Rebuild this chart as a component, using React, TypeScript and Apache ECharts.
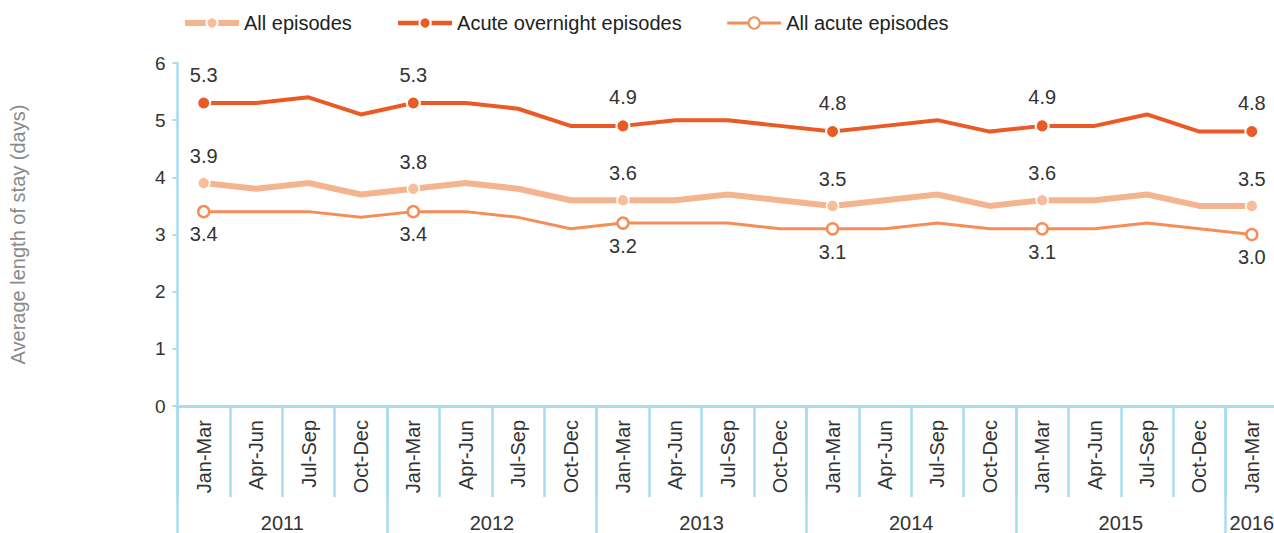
import React, { useEffect, useRef } from "react";
import * as echarts from "echarts";

const quarterNames = ["Jan-Mar", "Apr-Jun", "Jul-Sep", "Oct-Dec"];
const yearNames = ["2011", "2012", "2013", "2014", "2015", "2016"];
const quarterCount = 21;

const allEpisodes = [3.9, 3.8, 3.9, 3.7, 3.8, 3.9, 3.8, 3.6, 3.6, 3.6, 3.7, 3.6, 3.5, 3.6, 3.7, 3.5, 3.6, 3.6, 3.7, 3.5, 3.5];
const acuteOvernight = [5.3, 5.3, 5.4, 5.1, 5.3, 5.3, 5.2, 4.9, 4.9, 5.0, 5.0, 4.9, 4.8, 4.9, 5.0, 4.8, 4.9, 4.9, 5.1, 4.8, 4.8];
const allAcute = [3.4, 3.4, 3.4, 3.3, 3.4, 3.4, 3.3, 3.1, 3.2, 3.2, 3.2, 3.1, 3.1, 3.1, 3.2, 3.1, 3.1, 3.1, 3.2, 3.1, 3.0];

const yTicks = { min: 0, max: 6, interval: 1 };

const FONT = "'Liberation Sans', Arial, Helvetica, sans-serif";
const AXIS_BLUE = "#A8DCEF";
const C_DARK = "#EA5A24";
const C_LIGHT = "#F5B490";
const C_LIGHT_MARK = "#F7BE9E";
const C_MED = "#F78D56";

const categories: string[] = [];
for (let i = 0; i < quarterCount; i++) {
  categories.push(quarterNames[i % 4]);
}

// Half-step category axis for year group labels and boundaries
const yearSlots: string[] = new Array(quarterCount * 2 + 1).fill("");
yearNames.forEach((y, yi) => {
  const start = yi * 4;
  const count = Math.min(4, quarterCount - start);
  if (count > 0) yearSlots[2 * start + count] = y;
});

function buildData(values: number[]) {
  return values.map((v, i) =>
    i % 4 === 0
      ? { value: v, label: { show: true } }
      : { value: v, symbol: "none", label: { show: false } }
  );
}

export default function App() {
  const ref = useRef<HTMLDivElement>(null);
  useEffect(() => {
    document.body.style.margin = "0";
    const chart = echarts.init(ref.current!, null, { renderer: "svg" });
    const labelStyle = { fontSize: 20, color: "#333", fontFamily: FONT };
    chart.setOption({
      animation: false,
      textStyle: { fontFamily: FONT },
      legend: {
        left: 182,
        top: 13,
        padding: 0,
        itemWidth: 54,
        itemHeight: 14,
        itemGap: 44,
        textStyle: { fontSize: 20, color: "#222", fontFamily: FONT },
        data: [
          { name: "All episodes", lineStyle: { width: 6 } },
          { name: "Acute overnight episodes", lineStyle: { width: 4.5 } },
          { name: "All acute episodes", lineStyle: { width: 3 } },
        ],
      },
      grid: {
        left: 177.5,
        right: -4,
        top: 63,
        bottom: 127,
        containLabel: false,
        outerBoundsMode: "none",
      },
      yAxis: {
        type: "value",
        min: yTicks.min,
        max: yTicks.max,
        interval: yTicks.interval,
        name: "Average length of stay (days)",
        nameLocation: "middle",
        nameGap: 150,
        nameRotate: 90,
        nameTextStyle: { fontSize: 20, color: "#8a8a8a", fontFamily: FONT },
        axisLine: { show: true, lineStyle: { color: AXIS_BLUE, width: 2.5 } },
        axisTick: { show: true, length: 5, lineStyle: { color: AXIS_BLUE, width: 2 } },
        splitLine: { show: false },
        axisLabel: { fontSize: 19, color: "#333", margin: 12, fontFamily: FONT },
      },
      xAxis: [
        {
          type: "category",
          data: categories,
          boundaryGap: true,
          position: "bottom",
          axisLine: { show: true, lineStyle: { color: AXIS_BLUE, width: 3 } },
          axisTick: { show: true, interval: 0, length: 91, lineStyle: { color: AXIS_BLUE, width: 2.5 } },
          axisLabel: { interval: 0, rotate: 90, fontSize: 20, color: "#333", margin: 14, fontFamily: FONT },
          splitLine: { show: false },
        },
        {
          type: "category",
          data: yearSlots,
          boundaryGap: false,
          position: "bottom",
          axisLine: { show: false },
          axisTick: {
            show: true,
            interval: (i: number) => i % 8 === 0,
            length: 135,
            lineStyle: { color: AXIS_BLUE, width: 2.5 },
          },
          axisLabel: { interval: 0, fontSize: 20, color: "#333", margin: 107, fontFamily: FONT },
          splitLine: { show: false },
        },
      ],
      series: [
        {
          name: "All episodes",
          type: "line",
          xAxisIndex: 0,
          data: buildData(allEpisodes),
          symbol: "circle",
          symbolSize: 12,
          lineStyle: { color: C_LIGHT, width: 6 },
          itemStyle: { color: C_LIGHT_MARK, borderColor: "#fff", borderWidth: 1.5 },
          label: { position: "top", distance: 10, ...labelStyle, formatter: (p: any) => p.value.toFixed(1) },
          z: 2,
        },
        {
          name: "Acute overnight episodes",
          type: "line",
          xAxisIndex: 0,
          data: buildData(acuteOvernight),
          symbol: "circle",
          symbolSize: 13,
          lineStyle: { color: C_DARK, width: 4 },
          itemStyle: { color: C_DARK, borderColor: "#fff", borderWidth: 2 },
          label: { position: "top", distance: 11, ...labelStyle, formatter: (p: any) => p.value.toFixed(1) },
          z: 3,
        },
        {
          name: "All acute episodes",
          type: "line",
          xAxisIndex: 0,
          data: buildData(allAcute),
          symbol: "circle",
          symbolSize: 11,
          lineStyle: { color: C_MED, width: 3 },
          itemStyle: { color: "#fff", borderColor: C_MED, borderWidth: 2.5 },
          label: { position: "bottom", distance: 6, ...labelStyle, formatter: (p: any) => p.value.toFixed(1) },
          z: 2,
        },
      ],
    });
    return () => chart.dispose();
  }, []);
  return <div ref={ref} style={{ width: 1274, height: 533, position: "absolute", left: 0, top: 0 }} />;
}
